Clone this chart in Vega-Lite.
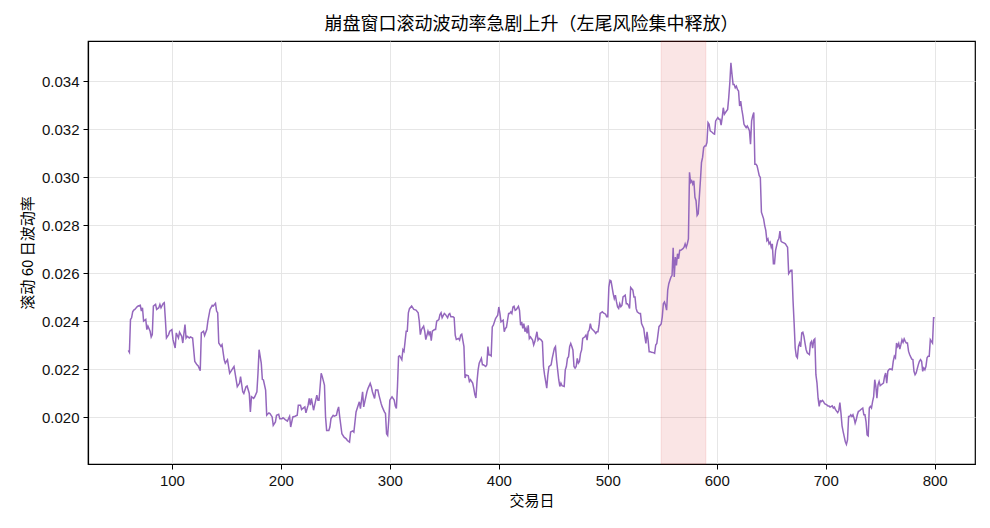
{
  "$schema": "https://vega.github.io/schema/vega-lite/v6.json",
  "width": 887,
  "height": 423,
  "autosize": {"type": "none"},
  "padding": {"left": 88, "top": 41, "right": 15, "bottom": 64},
  "background": "white",
  "title": {
    "text": "崩盘窗口滚动波动率急剧上升（左尾风险集中释放）",
    "font": "Noto Sans CJK SC",
    "fontSize": 18,
    "fontWeight": "normal",
    "color": "black",
    "anchor": "middle",
    "offset": 7
  },
  "config": {
    "view": {"stroke": "black", "strokeWidth": 1.2},
    "axis": {
      "domainColor": "black",
      "domainWidth": 1.2,
      "tickColor": "black",
      "tickSize": 5,
      "tickWidth": 1,
      "gridColor": "#e3e3e3",
      "gridWidth": 0.9,
      "labelFont": "Liberation Sans",
      "labelFontSize": 15,
      "labelColor": "#111111",
      "titleFont": "Noto Sans CJK SC",
      "titleFontSize": 15,
      "titleFontWeight": "normal",
      "titleColor": "black"
    }
  },
  "datasets": {
    "vol": [
      {"d": 60, "v": 0.02278}, {"d": 61, "v": 0.0227}, {"d": 62, "v": 0.02407}, {"d": 63, "v": 0.02414}, {"d": 64, "v": 0.02439},
      {"d": 65, "v": 0.02446}, {"d": 66, "v": 0.02449}, {"d": 68, "v": 0.0246}, {"d": 69, "v": 0.02463}, {"d": 71, "v": 0.02466},
      {"d": 72, "v": 0.02442}, {"d": 73, "v": 0.02456}, {"d": 74, "v": 0.024}, {"d": 76, "v": 0.02407}, {"d": 77, "v": 0.02365},
      {"d": 78, "v": 0.02379}, {"d": 80, "v": 0.02358}, {"d": 81, "v": 0.02334}, {"d": 82, "v": 0.02344}, {"d": 83, "v": 0.02463},
      {"d": 85, "v": 0.0247}, {"d": 86, "v": 0.02449}, {"d": 88, "v": 0.02456}, {"d": 89, "v": 0.0247}, {"d": 90, "v": 0.02456},
      {"d": 92, "v": 0.02474}, {"d": 93, "v": 0.02477}, {"d": 94, "v": 0.02407}, {"d": 95, "v": 0.0233}, {"d": 97, "v": 0.02344},
      {"d": 98, "v": 0.02358}, {"d": 100, "v": 0.02365}, {"d": 101, "v": 0.02323}, {"d": 103, "v": 0.02288}, {"d": 104, "v": 0.02351},
      {"d": 106, "v": 0.0233}, {"d": 107, "v": 0.02354}, {"d": 109, "v": 0.02337}, {"d": 110, "v": 0.02309}, {"d": 112, "v": 0.02386},
      {"d": 113, "v": 0.0233}, {"d": 114, "v": 0.02337}, {"d": 116, "v": 0.0233}, {"d": 117, "v": 0.02334}, {"d": 119, "v": 0.0233},
      {"d": 121, "v": 0.02232}, {"d": 123, "v": 0.02218}, {"d": 124, "v": 0.02214}, {"d": 126, "v": 0.02194}, {"d": 127, "v": 0.02351},
      {"d": 129, "v": 0.02358}, {"d": 130, "v": 0.0234}, {"d": 132, "v": 0.02365}, {"d": 133, "v": 0.024}, {"d": 135, "v": 0.02449},
      {"d": 137, "v": 0.02466}, {"d": 138, "v": 0.02463}, {"d": 140, "v": 0.02474}, {"d": 141, "v": 0.02442}, {"d": 142, "v": 0.02435},
      {"d": 143, "v": 0.02309}, {"d": 145, "v": 0.02295}, {"d": 146, "v": 0.02302}, {"d": 148, "v": 0.02239}, {"d": 149, "v": 0.02225},
      {"d": 151, "v": 0.02239}, {"d": 153, "v": 0.02183}, {"d": 154, "v": 0.0219}, {"d": 156, "v": 0.02204}, {"d": 157, "v": 0.02211},
      {"d": 159, "v": 0.02155}, {"d": 160, "v": 0.02127}, {"d": 162, "v": 0.02141}, {"d": 163, "v": 0.02169}, {"d": 165, "v": 0.02106},
      {"d": 166, "v": 0.02099}, {"d": 168, "v": 0.02127}, {"d": 169, "v": 0.0213}, {"d": 171, "v": 0.02099}, {"d": 172, "v": 0.02022},
      {"d": 173, "v": 0.02085}, {"d": 175, "v": 0.02078}, {"d": 176, "v": 0.02085}, {"d": 178, "v": 0.02106}, {"d": 179, "v": 0.02183},
      {"d": 180, "v": 0.02281}, {"d": 182, "v": 0.02225}, {"d": 183, "v": 0.02158}, {"d": 184, "v": 0.02155}, {"d": 186, "v": 0.02113},
      {"d": 187, "v": 0.02008}, {"d": 189, "v": 0.02018}, {"d": 190, "v": 0.02015}, {"d": 192, "v": 0.02001}, {"d": 193, "v": 0.01966},
      {"d": 195, "v": 0.0198}, {"d": 196, "v": 0.02008}, {"d": 198, "v": 0.02012}, {"d": 199, "v": 0.01994}, {"d": 201, "v": 0.01994},
      {"d": 202, "v": 0.01998}, {"d": 204, "v": 0.0199}, {"d": 206, "v": 0.01984}, {"d": 208, "v": 0.02004}, {"d": 209, "v": 0.01959},
      {"d": 211, "v": 0.02001}, {"d": 213, "v": 0.02004}, {"d": 215, "v": 0.02008}, {"d": 216, "v": 0.0205}, {"d": 218, "v": 0.0205},
      {"d": 219, "v": 0.02032}, {"d": 220, "v": 0.02036}, {"d": 222, "v": 0.02043}, {"d": 223, "v": 0.02018}, {"d": 225, "v": 0.0205},
      {"d": 226, "v": 0.02078}, {"d": 227, "v": 0.0205}, {"d": 228, "v": 0.02078}, {"d": 230, "v": 0.02029}, {"d": 231, "v": 0.0205},
      {"d": 233, "v": 0.02092}, {"d": 234, "v": 0.02071}, {"d": 235, "v": 0.02071}, {"d": 236, "v": 0.02127}, {"d": 237, "v": 0.02183},
      {"d": 238, "v": 0.02169}, {"d": 240, "v": 0.02134}, {"d": 241, "v": 0.02001}, {"d": 242, "v": 0.01945}, {"d": 244, "v": 0.01945},
      {"d": 245, "v": 0.01959}, {"d": 246, "v": 0.01994}, {"d": 248, "v": 0.02008}, {"d": 249, "v": 0.02004}, {"d": 251, "v": 0.02008},
      {"d": 252, "v": 0.02029}, {"d": 253, "v": 0.02043}, {"d": 254, "v": 0.02001}, {"d": 256, "v": 0.01931}, {"d": 258, "v": 0.01917},
      {"d": 260, "v": 0.0191}, {"d": 261, "v": 0.01903}, {"d": 263, "v": 0.01896}, {"d": 264, "v": 0.01938}, {"d": 266, "v": 0.01943},
      {"d": 267, "v": 0.01938}, {"d": 269, "v": 0.02022}, {"d": 270, "v": 0.02036}, {"d": 272, "v": 0.02064}, {"d": 273, "v": 0.02036},
      {"d": 275, "v": 0.02106}, {"d": 276, "v": 0.02043}, {"d": 277, "v": 0.02064}, {"d": 279, "v": 0.02106}, {"d": 280, "v": 0.0212},
      {"d": 282, "v": 0.02141}, {"d": 283, "v": 0.02127}, {"d": 284, "v": 0.02106}, {"d": 286, "v": 0.02078}, {"d": 287, "v": 0.02113},
      {"d": 289, "v": 0.02113}, {"d": 290, "v": 0.02092}, {"d": 292, "v": 0.02057}, {"d": 293, "v": 0.02043}, {"d": 295, "v": 0.02022},
      {"d": 296, "v": 0.02015}, {"d": 297, "v": 0.01931}, {"d": 298, "v": 0.01924}, {"d": 299, "v": 0.01987}, {"d": 300, "v": 0.02071},
      {"d": 301, "v": 0.02078}, {"d": 302, "v": 0.02085}, {"d": 304, "v": 0.02071}, {"d": 305, "v": 0.02046}, {"d": 306, "v": 0.02036},
      {"d": 307, "v": 0.02127}, {"d": 308, "v": 0.02253}, {"d": 309, "v": 0.02256}, {"d": 311, "v": 0.02239}, {"d": 312, "v": 0.02281},
      {"d": 313, "v": 0.02274}, {"d": 314, "v": 0.02316}, {"d": 315, "v": 0.02358}, {"d": 316, "v": 0.02358}, {"d": 317, "v": 0.02435},
      {"d": 318, "v": 0.02452}, {"d": 320, "v": 0.02463}, {"d": 322, "v": 0.02449}, {"d": 324, "v": 0.02446}, {"d": 326, "v": 0.02435},
      {"d": 327, "v": 0.024}, {"d": 328, "v": 0.02344}, {"d": 329, "v": 0.02365}, {"d": 331, "v": 0.02379}, {"d": 332, "v": 0.02358},
      {"d": 333, "v": 0.02323}, {"d": 335, "v": 0.02358}, {"d": 336, "v": 0.02344}, {"d": 337, "v": 0.02358}, {"d": 338, "v": 0.02319},
      {"d": 339, "v": 0.02358}, {"d": 341, "v": 0.02365}, {"d": 342, "v": 0.02365}, {"d": 343, "v": 0.024}, {"d": 345, "v": 0.02407},
      {"d": 346, "v": 0.02428}, {"d": 347, "v": 0.02435}, {"d": 348, "v": 0.02414}, {"d": 350, "v": 0.02432}, {"d": 351, "v": 0.02428},
      {"d": 353, "v": 0.02414}, {"d": 354, "v": 0.02428}, {"d": 355, "v": 0.02432}, {"d": 356, "v": 0.02418}, {"d": 358, "v": 0.02418},
      {"d": 359, "v": 0.02415}, {"d": 360, "v": 0.02342}, {"d": 361, "v": 0.02324}, {"d": 363, "v": 0.02328}, {"d": 364, "v": 0.02321},
      {"d": 365, "v": 0.02342}, {"d": 366, "v": 0.02346}, {"d": 368, "v": 0.02294}, {"d": 369, "v": 0.02163}, {"d": 370, "v": 0.02176},
      {"d": 372, "v": 0.02172}, {"d": 373, "v": 0.02149}, {"d": 374, "v": 0.02156}, {"d": 376, "v": 0.02142}, {"d": 377, "v": 0.02121},
      {"d": 378, "v": 0.02094}, {"d": 379, "v": 0.0208}, {"d": 380, "v": 0.02149}, {"d": 381, "v": 0.02197}, {"d": 382, "v": 0.02225},
      {"d": 384, "v": 0.02245}, {"d": 385, "v": 0.02218}, {"d": 386, "v": 0.02218}, {"d": 388, "v": 0.02211}, {"d": 389, "v": 0.02218},
      {"d": 390, "v": 0.02294}, {"d": 391, "v": 0.02259}, {"d": 392, "v": 0.02259}, {"d": 393, "v": 0.02255}, {"d": 394, "v": 0.02376},
      {"d": 395, "v": 0.02383}, {"d": 397, "v": 0.02411}, {"d": 398, "v": 0.02418}, {"d": 399, "v": 0.02425}, {"d": 400, "v": 0.02459},
      {"d": 401, "v": 0.02432}, {"d": 402, "v": 0.02397}, {"d": 404, "v": 0.02404}, {"d": 405, "v": 0.02356}, {"d": 406, "v": 0.0237},
      {"d": 407, "v": 0.02374}, {"d": 409, "v": 0.02432}, {"d": 410, "v": 0.02432}, {"d": 411, "v": 0.02439}, {"d": 412, "v": 0.02432},
      {"d": 413, "v": 0.02459}, {"d": 414, "v": 0.02462}, {"d": 415, "v": 0.02445}, {"d": 416, "v": 0.02448}, {"d": 418, "v": 0.02462},
      {"d": 419, "v": 0.02445}, {"d": 420, "v": 0.02383}, {"d": 421, "v": 0.02397}, {"d": 422, "v": 0.0237}, {"d": 423, "v": 0.0239},
      {"d": 424, "v": 0.02356}, {"d": 425, "v": 0.0237}, {"d": 426, "v": 0.02349}, {"d": 427, "v": 0.02383}, {"d": 428, "v": 0.02328},
      {"d": 429, "v": 0.02335}, {"d": 431, "v": 0.02321}, {"d": 432, "v": 0.02301}, {"d": 433, "v": 0.02314}, {"d": 435, "v": 0.02356},
      {"d": 436, "v": 0.02321}, {"d": 437, "v": 0.02328}, {"d": 439, "v": 0.02321}, {"d": 440, "v": 0.02314}, {"d": 441, "v": 0.02211},
      {"d": 442, "v": 0.02176}, {"d": 443, "v": 0.02149}, {"d": 444, "v": 0.02121}, {"d": 445, "v": 0.02176}, {"d": 446, "v": 0.02211},
      {"d": 448, "v": 0.02218}, {"d": 449, "v": 0.02245}, {"d": 451, "v": 0.02287}, {"d": 452, "v": 0.02294}, {"d": 453, "v": 0.02238},
      {"d": 454, "v": 0.02197}, {"d": 455, "v": 0.02156}, {"d": 456, "v": 0.02128}, {"d": 457, "v": 0.02142}, {"d": 458, "v": 0.02131},
      {"d": 460, "v": 0.02128}, {"d": 461, "v": 0.02197}, {"d": 462, "v": 0.02211}, {"d": 463, "v": 0.02245}, {"d": 464, "v": 0.02252},
      {"d": 465, "v": 0.02294}, {"d": 466, "v": 0.02307}, {"d": 467, "v": 0.02294}, {"d": 468, "v": 0.0228}, {"d": 469, "v": 0.02211},
      {"d": 470, "v": 0.02204}, {"d": 471, "v": 0.02211}, {"d": 472, "v": 0.02245}, {"d": 473, "v": 0.02225}, {"d": 474, "v": 0.02232},
      {"d": 475, "v": 0.02266}, {"d": 476, "v": 0.0228}, {"d": 477, "v": 0.02328}, {"d": 479, "v": 0.02335}, {"d": 480, "v": 0.02342},
      {"d": 481, "v": 0.02321}, {"d": 482, "v": 0.02356}, {"d": 483, "v": 0.02363}, {"d": 484, "v": 0.0239}, {"d": 485, "v": 0.0237},
      {"d": 486, "v": 0.02365}, {"d": 488, "v": 0.02356}, {"d": 489, "v": 0.02349}, {"d": 490, "v": 0.02356}, {"d": 491, "v": 0.02356},
      {"d": 492, "v": 0.02383}, {"d": 493, "v": 0.02432}, {"d": 495, "v": 0.02439}, {"d": 496, "v": 0.02434}, {"d": 498, "v": 0.02429},
      {"d": 499, "v": 0.02418}, {"d": 500, "v": 0.02418}, {"d": 501, "v": 0.02542}, {"d": 502, "v": 0.0257}, {"d": 503, "v": 0.02567},
      {"d": 505, "v": 0.02514}, {"d": 506, "v": 0.02494}, {"d": 507, "v": 0.02508}, {"d": 508, "v": 0.0248}, {"d": 509, "v": 0.02459},
      {"d": 510, "v": 0.02453}, {"d": 511, "v": 0.02473}, {"d": 512, "v": 0.0246}, {"d": 513, "v": 0.02466}, {"d": 514, "v": 0.02501},
      {"d": 516, "v": 0.02508}, {"d": 517, "v": 0.02473}, {"d": 518, "v": 0.02473}, {"d": 519, "v": 0.02466}, {"d": 520, "v": 0.02453},
      {"d": 521, "v": 0.0254}, {"d": 523, "v": 0.02529}, {"d": 524, "v": 0.02501}, {"d": 525, "v": 0.02501}, {"d": 526, "v": 0.02453},
      {"d": 527, "v": 0.02439}, {"d": 529, "v": 0.02432}, {"d": 530, "v": 0.02432}, {"d": 531, "v": 0.0239}, {"d": 533, "v": 0.0237},
      {"d": 534, "v": 0.02335}, {"d": 535, "v": 0.02307}, {"d": 536, "v": 0.02356}, {"d": 537, "v": 0.02321}, {"d": 538, "v": 0.02273},
      {"d": 539, "v": 0.02273}, {"d": 540, "v": 0.0227}, {"d": 542, "v": 0.02269}, {"d": 543, "v": 0.02266}, {"d": 544, "v": 0.02301},
      {"d": 545, "v": 0.02307}, {"d": 546, "v": 0.02342}, {"d": 547, "v": 0.02377}, {"d": 549, "v": 0.02388}, {"d": 550, "v": 0.02418},
      {"d": 551, "v": 0.02473}, {"d": 552, "v": 0.0248}, {"d": 553, "v": 0.02466}, {"d": 554, "v": 0.02446}, {"d": 555, "v": 0.02529},
      {"d": 556, "v": 0.02556}, {"d": 557, "v": 0.0257}, {"d": 558, "v": 0.02584}, {"d": 559, "v": 0.02591}, {"d": 560, "v": 0.02706},
      {"d": 561, "v": 0.02584}, {"d": 562, "v": 0.02667}, {"d": 563, "v": 0.02632}, {"d": 564, "v": 0.02681}, {"d": 565, "v": 0.0266},
      {"d": 566, "v": 0.02695}, {"d": 567, "v": 0.02695}, {"d": 569, "v": 0.02702}, {"d": 570, "v": 0.02708}, {"d": 571, "v": 0.02722},
      {"d": 572, "v": 0.02708}, {"d": 573, "v": 0.02722}, {"d": 574, "v": 0.02743}, {"d": 575, "v": 0.0302}, {"d": 576, "v": 0.02978},
      {"d": 577, "v": 0.02985}, {"d": 578, "v": 0.02971}, {"d": 579, "v": 0.02985}, {"d": 580, "v": 0.02916}, {"d": 581, "v": 0.02902},
      {"d": 582, "v": 0.0284}, {"d": 583, "v": 0.02847}, {"d": 584, "v": 0.02916}, {"d": 585, "v": 0.02985}, {"d": 586, "v": 0.03061},
      {"d": 587, "v": 0.03082}, {"d": 588, "v": 0.03123}, {"d": 589, "v": 0.0313}, {"d": 590, "v": 0.0313}, {"d": 591, "v": 0.03144},
      {"d": 592, "v": 0.03227}, {"d": 593, "v": 0.0322}, {"d": 594, "v": 0.03193}, {"d": 596, "v": 0.03186}, {"d": 597, "v": 0.03181},
      {"d": 598, "v": 0.03179}, {"d": 599, "v": 0.03234}, {"d": 601, "v": 0.03248}, {"d": 602, "v": 0.03241}, {"d": 603, "v": 0.03241},
      {"d": 604, "v": 0.03217}, {"d": 605, "v": 0.03248}, {"d": 606, "v": 0.03289}, {"d": 607, "v": 0.03262}, {"d": 608, "v": 0.03269},
      {"d": 610, "v": 0.03282}, {"d": 611, "v": 0.03331}, {"d": 612, "v": 0.03393}, {"d": 613, "v": 0.03476}, {"d": 614, "v": 0.03428},
      {"d": 615, "v": 0.03386}, {"d": 616, "v": 0.03386}, {"d": 617, "v": 0.03372}, {"d": 618, "v": 0.03379}, {"d": 619, "v": 0.03365},
      {"d": 620, "v": 0.03359}, {"d": 621, "v": 0.03296}, {"d": 622, "v": 0.03317}, {"d": 623, "v": 0.03282}, {"d": 624, "v": 0.03255},
      {"d": 625, "v": 0.0322}, {"d": 626, "v": 0.03213}, {"d": 627, "v": 0.03206}, {"d": 628, "v": 0.03213}, {"d": 629, "v": 0.03204},
      {"d": 630, "v": 0.03193}, {"d": 631, "v": 0.03137}, {"d": 632, "v": 0.03234}, {"d": 633, "v": 0.03255}, {"d": 634, "v": 0.03269},
      {"d": 635, "v": 0.03054}, {"d": 636, "v": 0.03054}, {"d": 637, "v": 0.03047}, {"d": 638, "v": 0.03027}, {"d": 639, "v": 0.03006},
      {"d": 640, "v": 0.02999}, {"d": 641, "v": 0.02854}, {"d": 643, "v": 0.02826}, {"d": 644, "v": 0.02798}, {"d": 645, "v": 0.02778},
      {"d": 646, "v": 0.02736}, {"d": 647, "v": 0.02743}, {"d": 648, "v": 0.02722}, {"d": 649, "v": 0.02729}, {"d": 650, "v": 0.02708},
      {"d": 651, "v": 0.02722}, {"d": 652, "v": 0.02639}, {"d": 653, "v": 0.02639}, {"d": 654, "v": 0.02695}, {"d": 655, "v": 0.02715},
      {"d": 656, "v": 0.02736}, {"d": 657, "v": 0.02743}, {"d": 658, "v": 0.02775}, {"d": 659, "v": 0.02733}, {"d": 660, "v": 0.02729},
      {"d": 662, "v": 0.02725}, {"d": 663, "v": 0.02722}, {"d": 664, "v": 0.02715}, {"d": 665, "v": 0.02708}, {"d": 666, "v": 0.02598},
      {"d": 668, "v": 0.02612}, {"d": 669, "v": 0.02612}, {"d": 670, "v": 0.02487}, {"d": 671, "v": 0.02393}, {"d": 672, "v": 0.02288},
      {"d": 673, "v": 0.02254}, {"d": 674, "v": 0.02247}, {"d": 675, "v": 0.02295}, {"d": 676, "v": 0.02309}, {"d": 677, "v": 0.02293},
      {"d": 678, "v": 0.02351}, {"d": 679, "v": 0.02354}, {"d": 680, "v": 0.02337}, {"d": 681, "v": 0.02309}, {"d": 682, "v": 0.02282},
      {"d": 683, "v": 0.02268}, {"d": 685, "v": 0.02261}, {"d": 686, "v": 0.02309}, {"d": 687, "v": 0.02316}, {"d": 688, "v": 0.02288},
      {"d": 689, "v": 0.02321}, {"d": 690, "v": 0.02326}, {"d": 691, "v": 0.02177}, {"d": 692, "v": 0.02142}, {"d": 693, "v": 0.02079},
      {"d": 694, "v": 0.02045}, {"d": 695, "v": 0.02068}, {"d": 696, "v": 0.02065}, {"d": 697, "v": 0.0207}, {"d": 698, "v": 0.02065},
      {"d": 699, "v": 0.02056}, {"d": 701, "v": 0.02051}, {"d": 702, "v": 0.02047}, {"d": 703, "v": 0.02047}, {"d": 704, "v": 0.02042},
      {"d": 706, "v": 0.02047}, {"d": 707, "v": 0.02038}, {"d": 708, "v": 0.02042}, {"d": 709, "v": 0.02031}, {"d": 711, "v": 0.02019},
      {"d": 712, "v": 0.02028}, {"d": 713, "v": 0.02061}, {"d": 714, "v": 0.02017}, {"d": 715, "v": 0.01964}, {"d": 716, "v": 0.0194},
      {"d": 717, "v": 0.01919}, {"d": 718, "v": 0.01898}, {"d": 719, "v": 0.01887}, {"d": 720, "v": 0.01905}, {"d": 721, "v": 0.02003},
      {"d": 722, "v": 0.02003}, {"d": 723, "v": 0.0201}, {"d": 724, "v": 0.02003}, {"d": 725, "v": 0.0201}, {"d": 726, "v": 0.01996},
      {"d": 727, "v": 0.01975}, {"d": 728, "v": 0.01989}, {"d": 729, "v": 0.0201}, {"d": 730, "v": 0.02024}, {"d": 731, "v": 0.02026},
      {"d": 732, "v": 0.02031}, {"d": 734, "v": 0.02038}, {"d": 735, "v": 0.0201}, {"d": 736, "v": 0.0201}, {"d": 737, "v": 0.01982},
      {"d": 738, "v": 0.01926}, {"d": 739, "v": 0.01922}, {"d": 740, "v": 0.02038}, {"d": 741, "v": 0.02045}, {"d": 742, "v": 0.02038},
      {"d": 743, "v": 0.02065}, {"d": 744, "v": 0.02086}, {"d": 745, "v": 0.02156}, {"d": 746, "v": 0.02128}, {"d": 747, "v": 0.02079},
      {"d": 748, "v": 0.02135}, {"d": 749, "v": 0.02149}, {"d": 750, "v": 0.02131}, {"d": 751, "v": 0.02135}, {"d": 753, "v": 0.02142},
      {"d": 754, "v": 0.0217}, {"d": 755, "v": 0.02184}, {"d": 756, "v": 0.02142}, {"d": 757, "v": 0.02191}, {"d": 758, "v": 0.02198},
      {"d": 759, "v": 0.02201}, {"d": 761, "v": 0.02198}, {"d": 762, "v": 0.02233}, {"d": 763, "v": 0.02254}, {"d": 764, "v": 0.02247},
      {"d": 765, "v": 0.02309}, {"d": 766, "v": 0.02295}, {"d": 767, "v": 0.02307}, {"d": 768, "v": 0.02284}, {"d": 769, "v": 0.02302},
      {"d": 770, "v": 0.02323}, {"d": 771, "v": 0.02312}, {"d": 772, "v": 0.02326}, {"d": 773, "v": 0.02316}, {"d": 774, "v": 0.02309},
      {"d": 775, "v": 0.02309}, {"d": 776, "v": 0.02275}, {"d": 777, "v": 0.02261}, {"d": 778, "v": 0.02251}, {"d": 779, "v": 0.02242},
      {"d": 780, "v": 0.0224}, {"d": 781, "v": 0.02191}, {"d": 782, "v": 0.02177}, {"d": 783, "v": 0.02184}, {"d": 785, "v": 0.02219},
      {"d": 786, "v": 0.02233}, {"d": 787, "v": 0.0224}, {"d": 788, "v": 0.02233}, {"d": 789, "v": 0.02191}, {"d": 790, "v": 0.02205},
      {"d": 791, "v": 0.02198}, {"d": 792, "v": 0.02212}, {"d": 793, "v": 0.02247}, {"d": 794, "v": 0.02254}, {"d": 795, "v": 0.02254},
      {"d": 796, "v": 0.02323}, {"d": 797, "v": 0.02316}, {"d": 798, "v": 0.02309}, {"d": 799, "v": 0.02414}, {"d": 800, "v": 0.02414}
    ],
    "band": [{"start": 549, "end": 590}]
  },
  "layer": [
    {
      "data": {"name": "band"},
      "mark": {
        "type": "rect",
        "fill": "#d62728",
        "fillOpacity": 0.12,
        "stroke": "#d62728",
        "strokeOpacity": 0.12,
        "strokeWidth": 1
      },
      "encoding": {
        "x": {"field": "start", "type": "quantitative"},
        "x2": {"field": "end"}
      }
    },
    {
      "data": {"name": "vol"},
      "mark": {"type": "line", "color": "#9467bd", "strokeWidth": 1.5, "clip": true},
      "encoding": {
        "x": {
          "field": "d",
          "type": "quantitative",
          "title": "交易日",
          "scale": {"domain": [23, 837], "nice": false, "zero": false},
          "axis": {"values": [100, 200, 300, 400, 500, 600, 700, 800], "labelPadding": 4, "titlePadding": 5}
        },
        "y": {
          "field": "v",
          "type": "quantitative",
          "title": "滚动 60 日波动率",
          "scale": {"domain": [0.01805, 0.03567], "nice": false, "zero": false},
          "axis": {
            "values": [0.020, 0.022, 0.024, 0.026, 0.028, 0.030, 0.032, 0.034],
            "format": ".3f",
            "labelPadding": 4,
            "titlePadding": 6
          }
        }
      }
    }
  ]
}
